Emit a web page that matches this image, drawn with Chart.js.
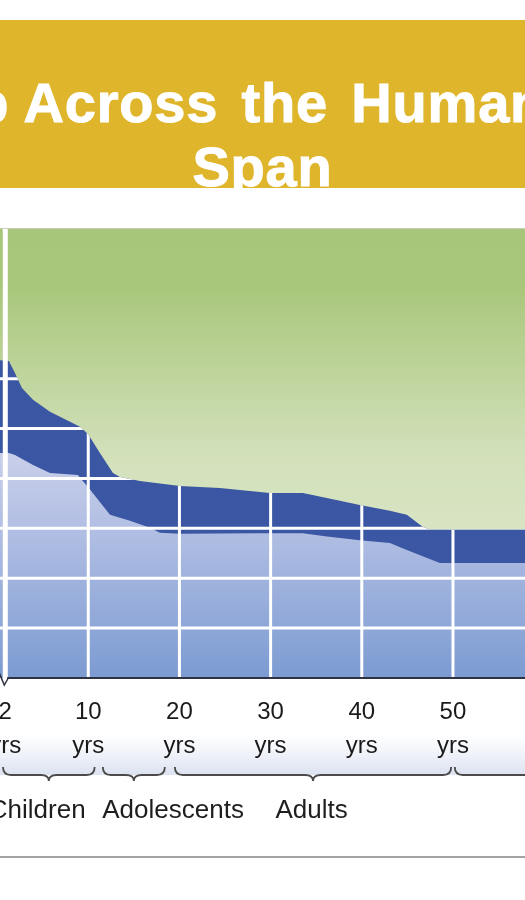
<!DOCTYPE html>
<html>
<head>
<meta charset="utf-8">
<title>Sleep Across the Human Life Span</title>
<script src="https://cdn.jsdelivr.net/npm/chart.js@4.4.1/dist/chart.umd.min.js"></script>
<style>
    html, body { margin: 0; padding: 0; background: #fff; }
    body { width: 525px; height: 900px; position: relative; overflow: hidden; font-family: "Liberation Sans", Arial, sans-serif; }
    .banner { position: absolute; left: 0; top: 20px; width: 525px; height: 168px; background: #DFB52C; overflow: hidden; }
    .banner .line {
        position: absolute; left: 0; right: 0; display: flex; justify-content: center;
        white-space: nowrap; color: #fff; font-weight: bold; font-size: 56px;
        letter-spacing: 0.8px; line-height: 65px; -webkit-text-stroke: 1px #fff;
    }
    .banner .l1 { top: 50px; margin-left: 2px; }
    .banner .l1 .wide { word-spacing: 7px; }
    .banner .l2 { top: 114px; }
    #chartWrap { position: absolute; left: 0; top: 190px; width: 525px; height: 710px; }
    .rule { position: absolute; left: 0; top: 856px; width: 525px; height: 2px; background: #A3A3A3; }
</style>
</head>
<body>
<div class="banner">
    <div class="line l1"><span>Sleep Across<span class="wide"> the Human Life</span></span></div>
    <div class="line l2"><span>Span</span></div>
</div>
<div id="chartWrap"><canvas id="sleepChart" width="525" height="710"></canvas></div>
<div class="rule"></div>

<script>
// ------------------------------------------------------------------ data
// x axis is broken at "2 yrs": values left of 10 are positions on that axis
const xTickPos = [0.9, 10, 20, 30, 40, 50];
const xTickLabels = ['2', '10', '20', '30', '40', '50'];

// total daily sleep (hours) - top of the dark band
const totalAge = [0, 1.3, 1.96, 2.73, 3.94, 5.8, 8.0, 9.09, 9.97, 11.28, 12.71, 13.48, 15.67, 20.05, 24.44, 29.92, 33.54, 36.17, 39.79, 43.08, 44.94, 46.7, 47.46, 60];
const totalHours = [12.75, 12.71, 12.23, 11.63, 11.15, 10.67, 10.27, 10.07, 9.78, 9.02, 8.22, 8.06, 7.9, 7.7, 7.62, 7.42, 7.42, 7.22, 6.94, 6.7, 6.54, 6.05, 5.95, 5.95];

// NREM sleep (hours) - top of the light band
const nremAge = [0, 1.3, 1.96, 3.94, 5.8, 8.87, 9.31, 9.97, 12.38, 14.57, 16.77, 17.86, 20.05, 28.83, 33.54, 36.17, 39.79, 43.08, 44.94, 48.56, 60];
const nremHours = [9.02, 9.02, 8.94, 8.54, 8.22, 8.14, 7.94, 7.66, 6.54, 6.3, 6.02, 5.82, 5.78, 5.8, 5.8, 5.67, 5.52, 5.41, 5.13, 4.61, 4.61];

// age groups under the axis
const groupNames = ['Children', 'Adolescents', 'Adults', ''];
const groupFrom = [0.65, 11.6, 19.5, 50.2];
const groupTo = [10.7, 18.4, 49.8, 80];

// ------------------------------------------------------------------ style
const labelAt = [4.4, 19.3, 34.5, null];   // where each group name is centred
const DARK_BLUE = '#3B57A3';

function nremFill(c) {
    const chart = c.chart;
    if (!chart.chartArea) return '#B0BDE2';
    const y = chart.scales.y;
    const g = chart.ctx.createLinearGradient(0, y.getPixelForValue(9), 0, y.getPixelForValue(0));
    g.addColorStop(0, '#C8CFEA');
    g.addColorStop(0.35, '#B1BEE3');
    g.addColorStop(1, '#7C9BD2');
    return g;
}

function brace(ctx, x1, x2, yEnd, yBar, yTip) {
    const m = (x1 + x2) / 2, r = 8;
    ctx.beginPath();
    ctx.moveTo(x1, yEnd);
    ctx.quadraticCurveTo(x1, yBar, x1 + r, yBar);
    ctx.lineTo(m - r, yBar);
    ctx.quadraticCurveTo(m, yBar, m, yTip);
    ctx.quadraticCurveTo(m, yBar, m + r, yBar);
    ctx.lineTo(x2 - r, yBar);
    ctx.quadraticCurveTo(x2, yBar, x2, yEnd);
    ctx.stroke();
}

// ------------------------------------------------------------------ decor plugin
const decor = {
    id: 'decor',
    beforeDraw(chart) {
        const { ctx, chartArea: a } = chart;
        ctx.save();
        // awake (green) background
        const g = ctx.createLinearGradient(0, a.top, 0, a.bottom);
        g.addColorStop(0, '#A8C67A');
        g.addColorStop(0.13, '#A9C77B');
        g.addColorStop(0.5, '#D2E0BA');
        g.addColorStop(1, '#E4ECD3');
        ctx.fillStyle = g;
        ctx.fillRect(a.left, a.top, a.width, a.height);
        ctx.fillStyle = 'rgba(140,160,110,0.5)';
        ctx.fillRect(a.left, a.top - 1, a.width, 1);
        // faint shading behind the "yrs" row
        const b = ctx.createLinearGradient(0, a.bottom + 57, 0, a.bottom + 97);
        b.addColorStop(0, 'rgba(225,230,243,0)');
        b.addColorStop(1, '#DCE2F0');
        ctx.fillStyle = b;
        ctx.fillRect(0, a.bottom + 57, chart.width, 40);
        ctx.restore();
    },
    afterDatasetsDraw(chart) {
        const { ctx, chartArea: a, scales: { x, y } } = chart;
        const pts = chart.getDatasetMeta(1).data;
        ctx.save();
        // white grid, only inside the sleep area
        ctx.beginPath();
        ctx.moveTo(pts[0].x, a.bottom);
        pts.forEach(p => ctx.lineTo(p.x, p.y));
        ctx.lineTo(pts[pts.length - 1].x, a.bottom);
        ctx.closePath();
        ctx.clip();
        ctx.strokeStyle = '#fff';
        ctx.lineWidth = 3;
        ctx.beginPath();
        y.ticks.forEach(t => {
            if (t.value <= 0 || t.value >= 18) return;
            const py = y.getPixelForValue(t.value);
            ctx.moveTo(a.left, py); ctx.lineTo(a.right, py);
        });
        xTickPos.slice(1).forEach(v => {
            const px = x.getPixelForValue(v);
            ctx.moveTo(px, a.top); ctx.lineTo(px, a.bottom);
        });
        ctx.stroke();
        ctx.restore();

        // axis break at 2 yrs
        const bx = x.getPixelForValue(xTickPos[0]);
        ctx.save();
        ctx.fillStyle = '#fff';
        ctx.fillRect(bx - 2.5, a.top, 5, a.height + 2);
        ctx.strokeStyle = '#2E3242';
        ctx.lineWidth = 2;
        ctx.beginPath();
        ctx.moveTo(bx + 2, a.bottom);
        ctx.lineTo(a.right, a.bottom);
        ctx.stroke();
        ctx.lineWidth = 1.5;
        ctx.beginPath();
        ctx.moveTo(bx - 6, a.bottom - 5);
        ctx.lineTo(bx - 1, a.bottom + 7);
        ctx.lineTo(bx + 3, a.bottom);
        ctx.stroke();
        ctx.restore();
    },
    afterDraw(chart) {
        const { ctx, chartArea: a, scales: { x } } = chart;
        ctx.save();
        ctx.strokeStyle = '#4A4A4A';
        ctx.lineWidth = 1.8;
        groupFrom.forEach((f, i) => {
            brace(ctx, x.getPixelForValue(f), x.getPixelForValue(groupTo[i]),
                a.bottom + 89, a.bottom + 97, a.bottom + 103);
        });
        ctx.fillStyle = '#1E1E1E';
        ctx.font = '26px "Liberation Sans", Arial, sans-serif';
        ctx.textAlign = 'center';
        ctx.textBaseline = 'middle';
        groupNames.forEach((n, i) => {
            if (!n) return;
            ctx.fillText(n, x.getPixelForValue(labelAt[i]), a.bottom + 133);
        });
        ctx.restore();
    }
};

// ------------------------------------------------------------------ chart
const toXY = (xs, ys) => xs.map((v, i) => ({ x: v, y: ys[i] }));

new Chart(document.getElementById('sleepChart'), {
    type: 'line',
    data: {
        datasets: [
            {
                label: 'NREM sleep',
                data: toXY(nremAge, nremHours),
                fill: 'origin',
                backgroundColor: nremFill,
                borderWidth: 0,
                borderColor: 'rgba(0,0,0,0)',
                pointRadius: 0,
                tension: 0
            },
            {
                label: 'REM sleep',
                data: toXY(totalAge, totalHours),
                fill: 'origin',
                backgroundColor: DARK_BLUE,
                borderWidth: 0,
                borderColor: 'rgba(0,0,0,0)',
                pointRadius: 0,
                tension: 0
            }
        ]
    },
    options: {
        responsive: false,
        animation: false,
        devicePixelRatio: 1,
        layout: { padding: { top: 39, left: 0, right: 0, bottom: 0 } },
        plugins: { legend: { display: false }, tooltip: { enabled: false } },
        scales: {
            x: {
                type: 'linear',
                min: 0.32,
                max: 57.9,
                grid: { display: false, drawTicks: false },
                border: { display: false },
                afterBuildTicks: s => { s.ticks = xTickPos.map(v => ({ value: v })); },
                afterFit: s => { s.paddingLeft = 0; s.paddingRight = 0; s.height = 222; },
                ticks: {
                    autoSkip: false,
                    maxRotation: 0,
                    padding: 17,
                    color: '#1A1A1A',
                    font: { family: '"Liberation Sans", Arial, sans-serif', size: 24, lineHeight: 1.42 },
                    callback: v => [xTickLabels[xTickPos.indexOf(v)], 'yrs']
                }
            },
            y: { display: false, min: 0, max: 18, ticks: { stepSize: 2 } }
        }
    },
    plugins: [decor]
});
</script>
</body>
</html>
